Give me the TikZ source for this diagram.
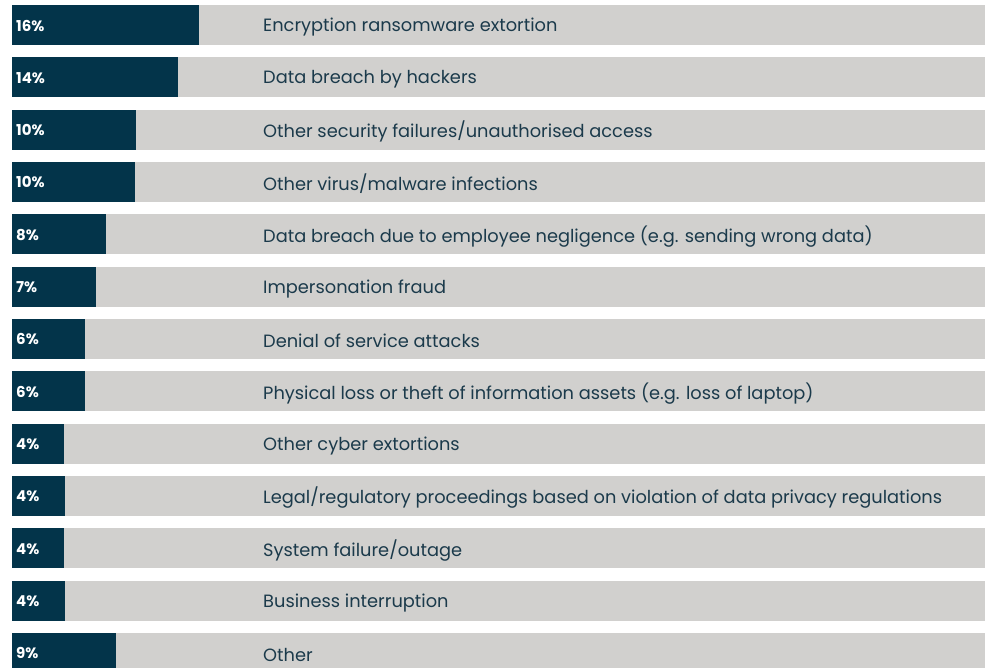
\documentclass[tikz,border=0pt]{standalone}
\usepackage{fontspec}
\setmainfont{Poppins}
\usepackage{tikz}
\usetikzlibrary{positioning}
\definecolor{navy}{HTML}{03344A}
\definecolor{bargrey}{HTML}{D1D0CE}
\definecolor{labelink}{HTML}{1B3A4B}
\tikzset{
  track/.style={fill=bargrey, draw=none},
  share/.style={fill=navy, draw=none},
  pct/.style={anchor=west, text=white, font=\bfseries\fontsize{15}{17}\selectfont, inner sep=0pt},
  cause/.style={anchor=west, text=labelink, font=\fontsize{17.8}{20}\selectfont, inner sep=0pt}
}

\begin{document}
\begin{tikzpicture}[x=1pt, y=-1pt]
    \useasboundingbox (0,0) rectangle (985,668);
    \foreach \w/\p/\t [count=\i from 0] in {
        199/16\%/Encryption ransomware extortion,
        178/14\%/Data breach by hackers,
        136/10\%/Other security failures\slash unauthorised access,
        135/10\%/Other virus\slash malware infections,
        106/8\%/Data breach due to employee negligence (e.g. sending wrong data),
        96/7\%/Impersonation fraud,
        85/6\%/Denial of service attacks,
        85/6\%/Physical loss or theft of information assets (e.g. loss of laptop),
        64/4\%/Other cyber extortions,
        65/4\%/Legal\slash regulatory proceedings based on violation of data privacy regulations,
        64/4\%/System failure\slash outage,
        65/4\%/Business interruption,
        116/9\%/Other}{
        \pgfmathsetmacro\top{5+52.33*\i}
        \fill[track] (12,\top) rectangle (985,\top+40);
        \fill[share] (12,\top) rectangle (\w,\top+40);
        \node[pct] (p\i) at (16,\top+20.5) {\p};
        \node[cause] (c\i) at (263,\top+22) {\t};
    }
\end{tikzpicture}
\end{document}
